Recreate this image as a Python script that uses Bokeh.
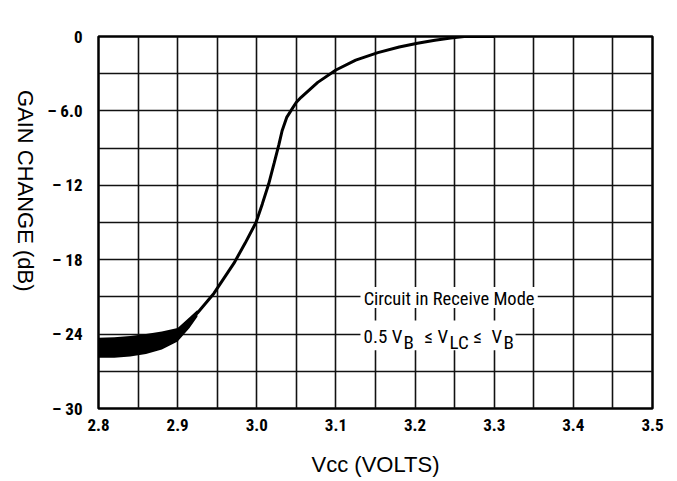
import math
from bokeh.plotting import figure
from bokeh.layouts import row
from bokeh.models import FixedTicker, Label, BoxAnnotation
from bokeh.embed import file_html
from bokeh.resources import INLINE

# ---- data ----
vcc_curve = [2.900, 2.925, 2.946, 2.971, 2.985, 2.999, 3.007, 3.015, 3.022,
             3.028, 3.032, 3.038, 3.045, 3.050, 3.056, 3.077, 3.100, 3.125,
             3.153, 3.180, 3.203, 3.225, 3.245, 3.262, 3.300]
gain_curve = [-23.8, -22.3, -20.7, -18.3, -16.7, -15.0, -13.5, -11.9, -10.2,
              -8.7, -7.6, -6.5, -5.8, -5.3, -4.9, -3.7, -2.7, -1.9,
              -1.3, -0.85, -0.55, -0.3, -0.12, 0.0, 0.0]

# thick (spread) portion of the trace at low Vcc
vcc_band = [2.800, 2.820, 2.840, 2.860, 2.880, 2.900, 2.915, 2.925]
band_upper = [-24.3, -24.25, -24.15, -24.0, -23.8, -23.5, -22.65, -22.05]
band_lower = [-25.9, -25.9, -25.8, -25.6, -25.25, -24.6, -23.5, -22.6]

x_ticks = [2.8, 2.9, 3.0, 3.1, 3.2, 3.3, 3.4, 3.5]
x_tick_labels = ["2.8", "2.9", "3.0", "3.1", "3.2", "3.3", "3.4", "3.5"]
y_ticks = [0, -6, -12, -18, -24, -30]
y_tick_labels = ["0", "\u2013 6.0", "\u2013 12", "\u2013 18", "\u2013 24", "\u2013 30"]

x_grid = [round(2.8 + 0.05 * i, 3) for i in range(1, 14)]
y_grid = [-3 * i for i in range(1, 10)]

x_label = "Vcc (VOLTS)"
y_label = "GAIN CHANGE (dB)"
note_line1 = "Circuit in Receive Mode"

COND = "Roboto Condensed"
SANS = "Liberation Sans"

SIDE_W = 40
TOTAL_H = 480
P_W = 626

p = figure(width=P_W, height=TOTAL_H, x_range=(2.8, 3.5), y_range=(-30, 0),
           output_backend="svg", toolbar_location=None,
           min_border_left=58, min_border_right=14,
           min_border_top=36, min_border_bottom=72)
p.background_fill_color = "white"
p.border_fill_color = "white"
p.outline_line_color = "black"
p.outline_line_width = 2.5
p.outline_line_alpha = 1.0

p.xaxis.ticker = FixedTicker(ticks=x_ticks)
p.xaxis.major_label_overrides = dict(zip(x_ticks, x_tick_labels))
p.yaxis.ticker = FixedTicker(ticks=y_ticks)
p.yaxis.major_label_overrides = dict(zip(y_ticks, y_tick_labels))
for ax in (p.xaxis, p.yaxis):
    ax.axis_line_color = None
    ax.major_tick_line_color = None
    ax.minor_tick_line_color = None
    ax.major_label_text_font = COND
    ax.major_label_text_font_style = "bold"
    ax.major_label_text_font_size = "17px"
    ax.major_label_text_color = "black"
p.xaxis.major_label_standoff = 4
p.yaxis.major_label_standoff = 10

p.xaxis.axis_label = x_label
p.xaxis.axis_label_text_font = SANS
p.xaxis.axis_label_text_font_size = "22px"
p.xaxis.axis_label_text_font_style = "normal"
p.xaxis.axis_label_text_color = "black"
p.xaxis.axis_label_standoff = 18

p.xgrid.ticker = FixedTicker(ticks=x_grid)
p.ygrid.ticker = FixedTicker(ticks=y_grid)
for g in (p.xgrid, p.ygrid):
    g.grid_line_color = "#111111"
    g.grid_line_width = 1.6
    g.grid_line_alpha = 1.0

p.varea(x=vcc_band, y1=band_lower, y2=band_upper, fill_color="black")
p.line(vcc_curve, gain_curve, line_color="black", line_width=3)

# annotation backgrounds interrupting the grid
p.add_layout(BoxAnnotation(left=3.131, right=3.355, top=-20.2, bottom=-21.9,
                           fill_color="white", fill_alpha=1.0, line_color=None))
p.add_layout(BoxAnnotation(left=3.131, right=3.327, top=-22.9, bottom=-25.3,
                           fill_color="white", fill_alpha=1.0, line_color=None))

p.add_layout(Label(x=3.135, y=-21.17, text=note_line1, text_font=COND,
                   text_font_size="18.5px", text_baseline="middle", text_align="left",
                   text_color="black"))

pieces = [  # (x, text, subscript?)
    (3.1349, "0.5 V", False),
    (3.1854, "B", True),
    (3.2119, "\u2264", False),
    (3.2284, "V", False),
    (3.2435, "LC", True),
    (3.2738, "\u2264", False),
    (3.2966, "V", False),
    (3.3118, "B", True),
]
for xx, t, sub in pieces:
    p.add_layout(Label(x=xx, y=(-24.64 if sub else -24.23), text=t, text_font=COND,
                       text_font_size="19px",
                       text_baseline="middle", text_align="left", text_color="black"))

# side panel carrying the vertical title (reads top to bottom)
side = figure(width=SIDE_W, height=TOTAL_H, x_range=(0, SIDE_W), y_range=(0, TOTAL_H),
              output_backend="svg", toolbar_location=None,
              x_axis_type=None, y_axis_type=None,
              min_border_left=0, min_border_right=0,
              min_border_top=0, min_border_bottom=0)
side.outline_line_color = None
side.grid.visible = False
side.background_fill_color = "white"
side.border_fill_color = "white"
side.add_layout(Label(x=25, y=281, text=y_label, text_font=SANS,
                      text_font_size="22px", text_align="center", text_baseline="middle",
                      angle=-math.pi / 2, text_color="black"))

layout = row(side, p)
open("out.html", "w").write(file_html(layout, INLINE))
